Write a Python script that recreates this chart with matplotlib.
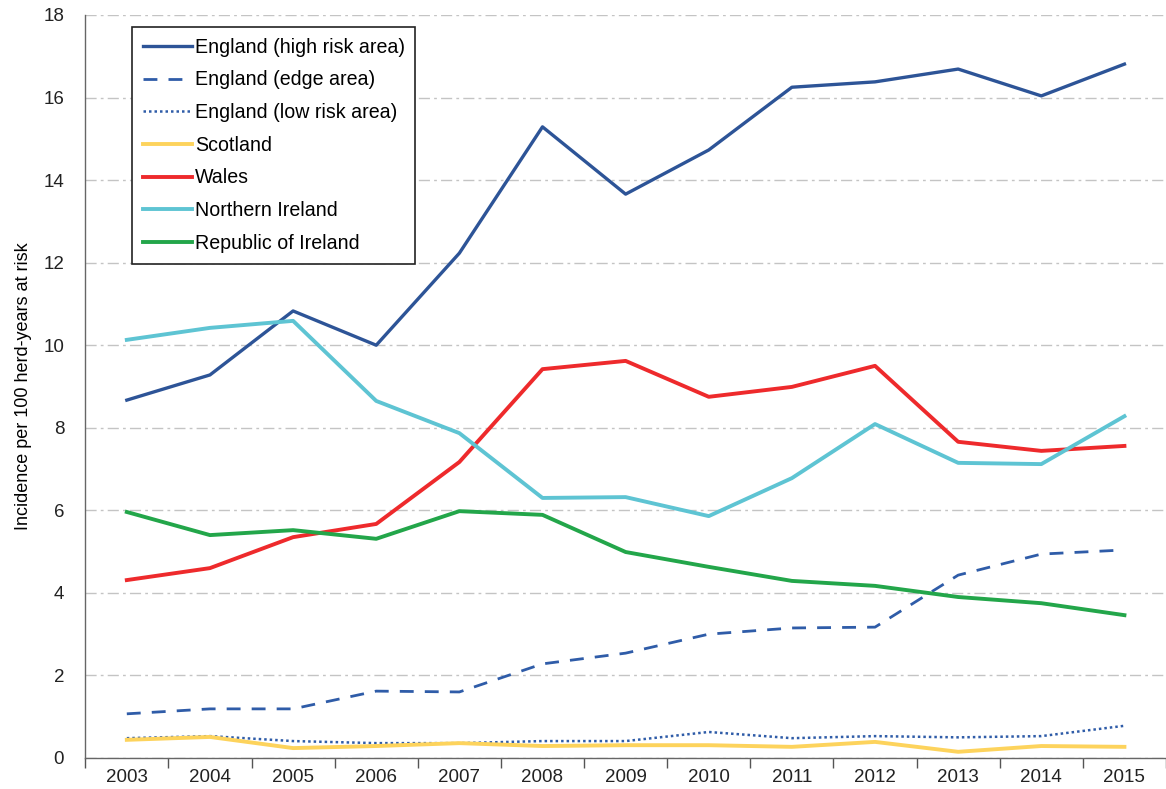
import numpy as np
import matplotlib
matplotlib.use("Agg")
import matplotlib.pyplot as plt

years = list(range(2003, 2016))

eng_high = [8.67, 9.28, 10.83, 10.0, 12.23, 15.29, 13.66, 14.73, 16.25, 16.38, 16.69, 16.04, 16.81]
eng_edge = [1.07, 1.19, 1.19, 1.62, 1.60, 2.28, 2.54, 3.0, 3.15, 3.17, 4.43, 4.94, 5.04]
eng_low = [0.48, 0.53, 0.41, 0.36, 0.36, 0.41, 0.41, 0.63, 0.48, 0.53, 0.50, 0.53, 0.78]
scotland = [0.44, 0.51, 0.24, 0.29, 0.36, 0.29, 0.31, 0.31, 0.27, 0.39, 0.15, 0.29, 0.27]
wales = [4.31, 4.60, 5.35, 5.67, 7.17, 9.42, 9.62, 8.75, 8.99, 9.50, 7.66, 7.44, 7.56]
n_ireland = [10.13, 10.42, 10.59, 8.65, 7.87, 6.30, 6.32, 5.86, 6.78, 8.09, 7.15, 7.12, 8.28]
rep_ireland = [5.96, 5.40, 5.52, 5.31, 5.98, 5.89, 4.99, 4.63, 4.29, 4.17, 3.90, 3.75, 3.46]

plt.rcParams['font.family'] = ['Liberation Sans', 'DejaVu Sans']

fig = plt.figure(figsize=(11.66, 7.89), dpi=100)
ax = fig.add_axes([0.0729, 0.0393, 0.9271, 0.9417])

ax.plot(years, eng_high, color='#2d5497', lw=2.4, label='England (high risk area)')
ax.plot(years, eng_edge, color='#2f5ca8', lw=2.0, ls=(0, (5, 4)), label='England (edge area)')
ax.plot(years, eng_low, color='#2f5ca8', lw=1.8, ls=(0, (1, 1.2)), label='England (low risk area)')
ax.plot(years, scotland, color='#fdd35c', lw=2.8, label='Scotland')
ax.plot(years, wales, color='#ee2a2c', lw=2.8, label='Wales')
ax.plot(years, n_ireland, color='#5ec4d3', lw=2.8, label='Northern Ireland')
ax.plot(years, rep_ireland, color='#23a64a', lw=2.8, label='Republic of Ireland')

ax.set_xlim(2002.497, 2015.455)
ax.set_ylim(0, 18)
ax.set_yticks(range(0, 19, 2))
ax.set_xticks(years)
ax.set_xticks(np.arange(2002.5, 2016, 1), minor=True)
ax.tick_params(axis='x', which='major', length=0, labelsize=13.5, pad=8, colors='#222222')
ax.tick_params(axis='x', which='minor', length=7, width=1, color='#555555')
ax.tick_params(axis='y', length=0, labelsize=13.5, pad=15, colors='#222222')

ax.grid(axis='y', color='#c4c4c4', lw=1.0, ls=(0, (8, 3, 2, 3)))
ax.set_axisbelow(True)
for s in ['top', 'right']:
    ax.spines[s].set_visible(False)
for s in ['left', 'bottom']:
    ax.spines[s].set_color('#666666')
    ax.spines[s].set_linewidth(1.0)

ax.set_ylabel('Incidence per 100 herd-years at risk', fontsize=13, labelpad=8)

leg = ax.legend(loc='upper left', bbox_to_anchor=(0.0435, 0.984), borderaxespad=0,
                fontsize=14.1, handlelength=2.5, handletextpad=0.15, labelspacing=0.7,
                borderpad=0.55, fancybox=False, framealpha=1)
leg.get_frame().set_edgecolor('#222222')
leg.get_frame().set_linewidth(1.2)

fig.savefig('out.png', dpi=100)
